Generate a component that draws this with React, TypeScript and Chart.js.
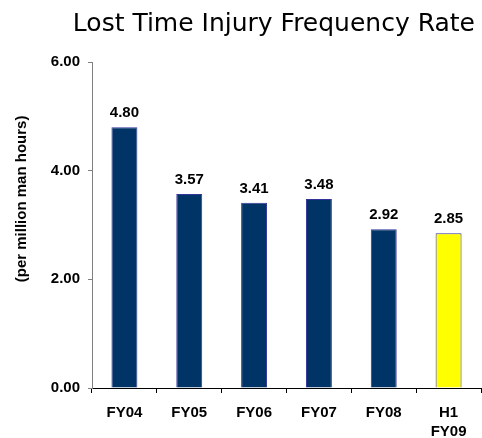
import React, { useEffect, useRef } from "react";
import { Chart, registerables } from "chart.js";

Chart.register(...registerables);

const titleText = "Lost Time Injury Frequency Rate";
const yAxisTitle = "(per million man hours)";
const categories: (string | string[])[] = ["FY04", "FY05", "FY06", "FY07", "FY08", ["H1", "FY09"]];
const values: number[] = [4.8, 3.57, 3.41, 3.48, 2.92, 2.85];
const barColors: string[] = ["#003366", "#003366", "#003366", "#003366", "#003366", "#FFFF00"];
const yMin = 0;
const yMax = 6;
const yStep = 2;

const boldFont = "'Liberation Sans', Arial, sans-serif";

const titlePlugin = {
  id: "customTitle",
  afterDraw(chart: any) {
    const ctx = chart.ctx;
    ctx.save();
    ctx.font = `normal 25px 'DejaVu Sans', Tahoma, sans-serif`;
    ctx.fillStyle = "#000";
    ctx.textAlign = "right";
    ctx.textBaseline = "alphabetic";
    ctx.fillText(titleText, chart.width - 7, 31);
    ctx.restore();
  },
};

const valueLabelPlugin = {
  id: "valueLabels",
  afterDatasetsDraw(chart: any) {
    const ctx = chart.ctx;
    const meta = chart.getDatasetMeta(0);
    ctx.save();
    ctx.font = `bold 15px ${boldFont}`;
    ctx.fillStyle = "#000";
    ctx.textAlign = "center";
    ctx.textBaseline = "alphabetic";
    meta.data.forEach((el: any, i: number) => {
      ctx.fillText(values[i].toFixed(2), el.x, el.y - 10);
    });
    ctx.restore();
  },
};

const yTitlePlugin = {
  id: "yTitle",
  afterDraw(chart: any) {
    const ctx = chart.ctx;
    const { top, bottom } = chart.chartArea;
    ctx.save();
    ctx.font = `bold 15px ${boldFont}`;
    ctx.fillStyle = "#000";
    ctx.textAlign = "center";
    ctx.textBaseline = "middle";
    ctx.translate(22, top + (bottom - top) * 0.42);
    ctx.rotate(-Math.PI / 2);
    ctx.fillText(yAxisTitle, 0, 0);
    ctx.restore();
  },
};

export default function App() {
  const canvasRef = useRef<HTMLCanvasElement | null>(null);

  useEffect(() => {
    document.body.style.margin = "0";
    const canvas = canvasRef.current;
    if (!canvas) return;
    const chart = new Chart(canvas, {
      type: "bar",
      data: {
        labels: categories,
        datasets: [
          {
            data: values,
            backgroundColor: barColors,
            borderColor: "#333399",
            borderWidth: 1,
            barPercentage: 0.4,
            categoryPercentage: 1,
          },
        ],
      },
      options: {
        responsive: false,
        animation: false,
        layout: { padding: { left: 0, right: 1, top: 62, bottom: 0 } },
        plugins: {
          legend: { display: false },
          tooltip: { enabled: false },
          title: { display: false },
        },
        scales: {
          x: {
            grid: {
              display: true,
              drawOnChartArea: false,
              drawTicks: true,
              tickLength: 5,
              color: "#000",
              offset: true,
            },
            border: { color: "#000", width: 1 },
            ticks: {
              color: "#000",
              padding: 10,
              maxRotation: 0,
              autoSkip: false,
              font: { family: boldFont, size: 15, weight: "bold", lineHeight: 1.3 },
            },
            afterFit(scale: any) {
              scale.height = 50;
            },
          },
          y: {
            min: yMin,
            max: yMax,
            grid: {
              display: true,
              drawOnChartArea: false,
              drawTicks: true,
              tickLength: 4,
              color: "#808080",
            },
            border: { color: "#808080", width: 1 },
            ticks: {
              stepSize: yStep,
              color: "#000",
              padding: 8,
              font: { family: boldFont, size: 15, weight: "bold" },
              callback: (v: any) => Number(v).toFixed(2),
            },
            afterFit(scale: any) {
              scale.width = 92;
            },
          },
        },
      },
      plugins: [valueLabelPlugin, yTitlePlugin, titlePlugin],
    });
    return () => chart.destroy();
  }, []);

  return (
    <div style={{ width: 482, height: 438 }}>
      <canvas ref={canvasRef} width={482} height={438} style={{ width: 482, height: 438 }} />
    </div>
  );
}
